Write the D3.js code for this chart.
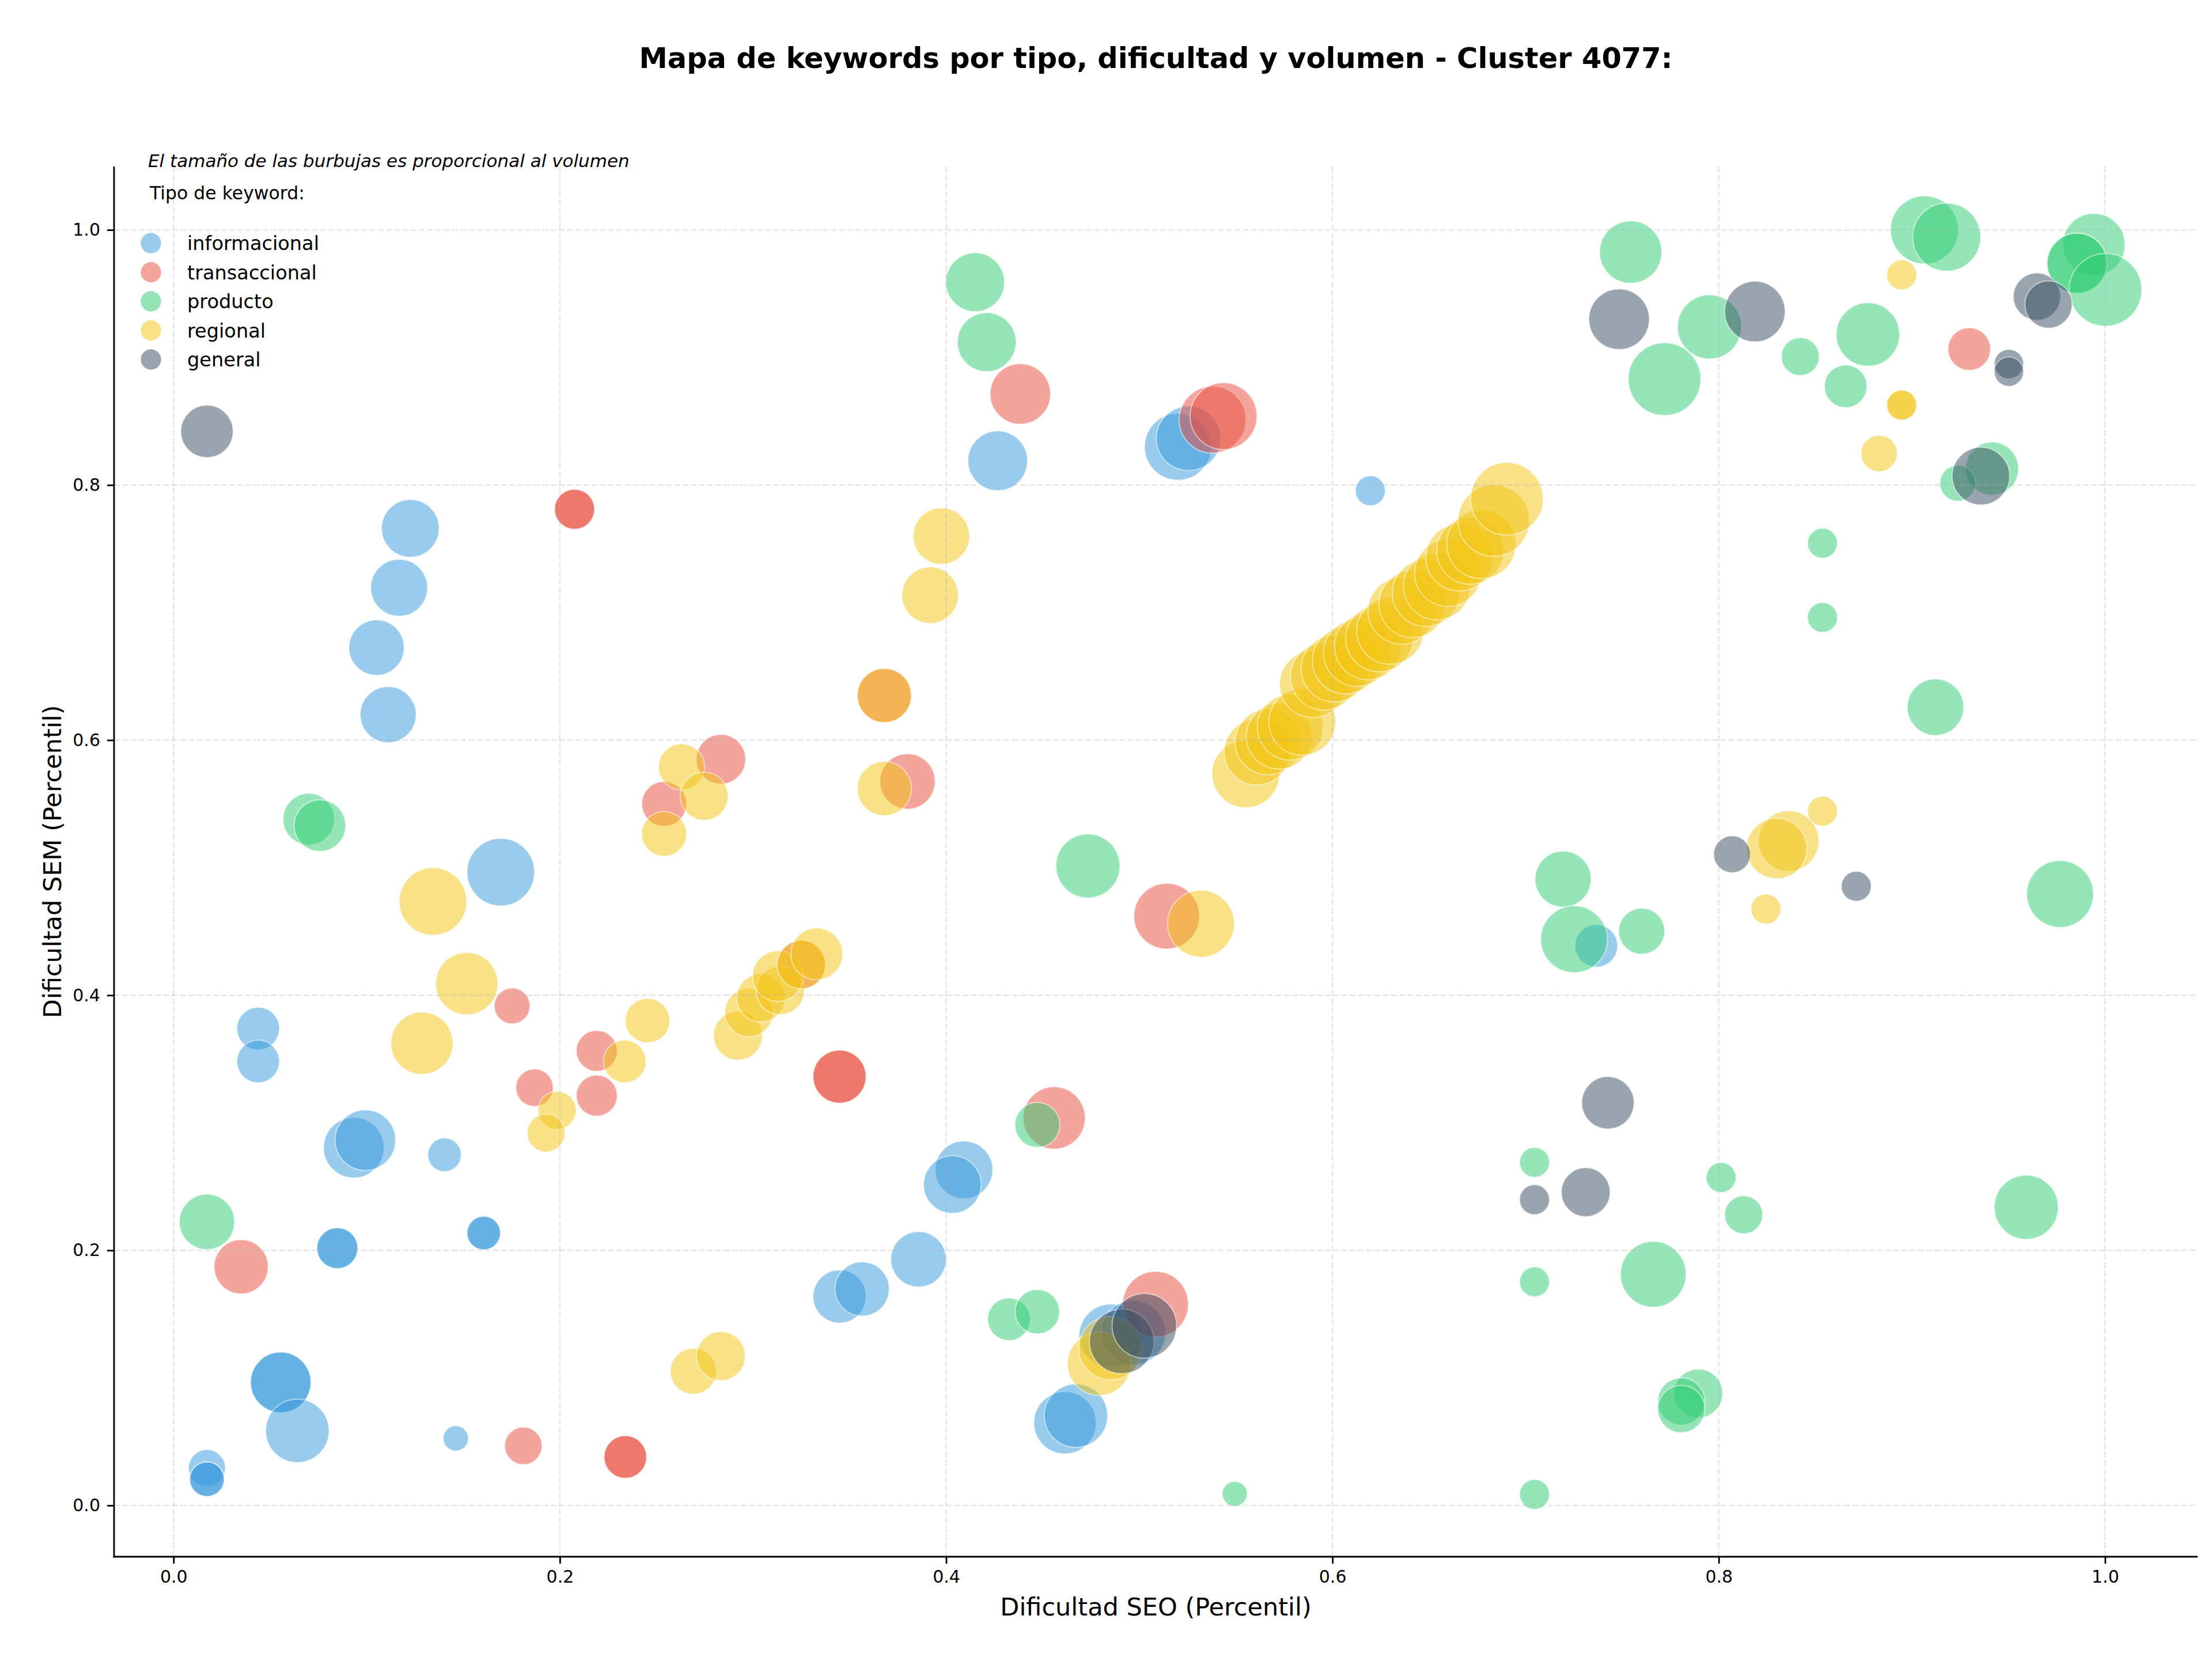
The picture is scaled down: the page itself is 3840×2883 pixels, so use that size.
<!DOCTYPE html>
<html>
<head>
<meta charset="utf-8">
<script src="https://cdn.jsdelivr.net/npm/d3@7"></script>
<style>
  html, body { margin: 0; padding: 0; background: #ffffff; }
  svg { display: block; }
  text { font-family: "DejaVu Sans", sans-serif; fill: #000; }
</style>
</head>
<body>
<script>
// ---------------- DATA ----------------
const titulo = "Mapa de keywords por tipo, dificultad y volumen - Cluster 4077:";
const nota = "El tamaño de las burbujas es proporcional al volumen";
const tituloLeyenda = "Tipo de keyword:";
const ejeX = "Dificultad SEO (Percentil)";
const ejeY = "Dificultad SEM (Percentil)";
const tipos = ["informacional", "transaccional", "producto", "regional", "general"];
const colores = ["#3498db", "#e74c3c", "#2ecc71", "#f1c40f", "#34495e"];
const ticksX = [0.0, 0.2, 0.4, 0.6, 0.8, 1.0];
const ticksY = [0.0, 0.2, 0.4, 0.6, 0.8, 1.0];

// [dificultad SEO, dificultad SEM, volumen]
const informacional = [
  [0.1226,0.766,400],[0.1168,0.7195,390],[0.1051,0.6725,369],[0.1111,0.620,378],
  [0.1694,0.4965,549],[0.4267,0.819,428],[0.520,0.830,538],[0.5255,0.8366,502],
  [0.6196,0.7955,108],[0.0438,0.3739,219],[0.0438,0.3481,219],[0.0933,0.2805,441],
  [0.0993,0.2864,441],[0.1403,0.2749,135],[0.0848,0.2017,202],[0.0848,0.2017,202],
  [0.1606,0.2136,135],[0.1606,0.2136,135],[0.0555,0.0965,441],[0.0555,0.0965,441],
  [0.0641,0.0585,484],[0.0173,0.0293,164],[0.0173,0.0206,144],[0.0173,0.0206,144],
  [0.1461,0.0526,77],[0.4092,0.2631,400],[0.4032,0.2516,400],[0.3857,0.193,369],
  [0.3448,0.1638,339],[0.3565,0.1697,353],[0.4852,0.1330,484],[0.4969,0.1355,502],
  [0.4615,0.0648,467],[0.4672,0.0704,484],[0.7366,0.4387,219]
];
const transaccional = [
  [0.2076,0.781,193],[0.2076,0.781,193],[0.2834,0.585,296],[0.254,0.550,243],
  [0.4384,0.8714,441],[0.5379,0.8512,538],[0.5436,0.854,538],[0.368,0.635,353],
  [0.380,0.5676,369],[0.1753,0.3916,154],[0.035,0.1871,353],[0.1811,0.0467,169],
  [0.2339,0.038,219],[0.2339,0.038,219],[0.1869,0.3275,169],[0.2191,0.3564,202],
  [0.2191,0.3213,202],[0.325,0.424,282],[0.5142,0.462,520],[0.3448,0.3362,339],
  [0.3448,0.3362,339],[0.4559,0.3038,467],[0.5084,0.1578,520],[0.9297,0.9066,219]
];
const producto = [
  [0.070,0.538,321],[0.0758,0.533,321],[0.415,0.959,416],[0.421,0.912,416],
  [0.4734,0.5014,493],[0.0173,0.2223,369],[0.4472,0.2983,243],[0.4325,0.146,219],
  [0.4472,0.1519,238],[0.5494,0.0091,75],[0.7544,0.9826,467],[0.7719,0.883,635],
  [0.7952,0.924,495],[0.8422,0.9007,174],[0.8772,0.918,484],[0.8657,0.8774,219],
  [0.9065,1.000,557],[0.918,0.9944,557],[0.9942,0.9885,467],[0.9855,0.9739,433],
  [0.9855,0.9739,433],[1.0002,0.953,635],[0.9415,0.8129,339],[0.9237,0.8014,154],
  [0.8537,0.7544,108],[0.8537,0.6962,108],[0.9122,0.6258,384],[0.7194,0.491,378],
  [0.7251,0.4439,538],[0.7601,0.4502,256],[0.9767,0.4794,538],[0.7046,0.269,108],
  [0.8012,0.2571,108],[0.8129,0.2279,174],[0.9592,0.2338,495],[0.7046,0.1753,108],
  [0.7661,0.1812,520],[0.7894,0.0878,288],[0.7806,0.0815,269],[0.7806,0.0756,269],
  [0.7046,0.0087,108]
];
const regional = [
  [0.263,0.579,256],[0.2747,0.556,278],[0.254,0.5265,243],[0.3975,0.760,384],
  [0.3917,0.7136,384],[0.368,0.635,353],[0.368,0.562,353],
  [0.5551,0.5735,549],[0.5609,0.5906,520],[0.5666,0.5986,520],[0.5724,0.6031,520],
  [0.5781,0.6101,520],[0.5844,0.6143,538],[0.5899,0.6439,538],[0.5956,0.6498,538],
  [0.6011,0.6561,538],[0.6069,0.6624,538],[0.6127,0.6683,538],[0.6184,0.6735,538],
  [0.6242,0.6798,538],[0.6299,0.6857,538],[0.6357,0.7014,538],[0.6414,0.7066,538],
  [0.6483,0.7153,538],[0.6541,0.7206,538],[0.6598,0.7310,538],[0.6656,0.7432,538],
  [0.6713,0.7484,538],[0.6771,0.7537,576],[0.6835,0.7721,615],[0.6903,0.7892,635],
  [0.1343,0.4735,549],[0.1518,0.4091,467],[0.1286,0.3624,467],[0.1986,0.3098,174],
  [0.1929,0.292,174],[0.2336,0.3481,219],[0.2454,0.3801,238],[0.2691,0.1052,256],
  [0.2834,0.1171,288],[0.2922,0.3683,288],[0.2979,0.3864,282],[0.3041,0.3979,282],
  [0.3141,0.4038,282],[0.3129,0.415,310],[0.325,0.424,282],[0.333,0.4324,324],
  [0.5319,0.4561,538],[0.4792,0.1111,484],[0.4851,0.1233,484],[0.8947,0.9648,108],
  [0.8947,0.8627,108],[0.8947,0.8627,108],[0.883,0.8247,160],[0.8537,0.5443,108],
  [0.8362,0.5209,441],[0.830,0.515,441],[0.8244,0.4676,108]
];
const general = [
  [0.0173,0.842,331],[0.7484,0.930,441],[0.8187,0.936,441],[0.9502,0.8948,104],
  [0.9502,0.8889,104],[0.9647,0.9477,269],[0.9707,0.9415,269],[0.9357,0.807,400],
  [0.8069,0.5105,164],[0.8712,0.4854,108],[0.7426,0.3157,331],[0.7046,0.2397,108],
  [0.7311,0.2456,288],[0.4909,0.1286,502],[0.5026,0.1408,502]
];
const series = [informacional, transaccional, producto, regional, general];

// ---------------- LAYOUT ----------------
const W = 3840, H = 2883;
const plot = { left: 198, right: 3815, top: 289, bottom: 2702 };
const FS = { title: 49.5, label: 43, tick: 30, legend: 33.6, legendTitle: 31.5, note: 31 };

const svg = d3.select("body").append("svg").attr("width", W).attr("height", H);
svg.append("rect").attr("width", W).attr("height", H).attr("fill", "#fff");

const x = d3.scaleLinear().domain([-0.0308, 1.0479]).range([plot.left, plot.right]);
const y = d3.scaleLinear().domain([-0.0402, 1.0497]).range([plot.bottom, plot.top]);
const r = d3.scaleSqrt().domain([0, 1000]).range([0, 2.5 * Math.sqrt(1000)]);
const color = d3.scaleOrdinal().domain(tipos).range(colores);

// bubbles
const gB = svg.append("g");
tipos.forEach((t, i) => {
  gB.append("g").selectAll("circle").data(series[i]).join("circle")
    .attr("cx", d => x(d[0])).attr("cy", d => y(d[1])).attr("r", d => r(d[2]))
    .attr("fill", color(t)).attr("fill-opacity", 0.5)
    .attr("stroke", "#fff").attr("stroke-opacity", 0.5).attr("stroke-width", 2);
});

// grid (drawn above collections as matplotlib does)
const gG = svg.append("g").attr("stroke", "#b0b0b0").attr("stroke-opacity", 0.3)
  .attr("stroke-width", 2.7).attr("stroke-dasharray", "10,4.3");
gG.selectAll(".gx").data(ticksX).join("line")
  .attr("x1", d => x(d)).attr("x2", d => x(d)).attr("y1", plot.top).attr("y2", plot.bottom);
gG.selectAll(".gy").data(ticksY).join("line")
  .attr("y1", d => y(d)).attr("y2", d => y(d)).attr("x1", plot.left).attr("x2", plot.right);

// axes
const xAxis = d3.axisBottom(x).tickValues(ticksX).tickFormat(d3.format(".1f")).tickSize(12).tickPadding(12);
const yAxis = d3.axisLeft(y).tickValues(ticksY).tickFormat(d3.format(".1f")).tickSize(12).tickPadding(12);
const gx = svg.append("g").attr("transform", `translate(0,${plot.bottom})`).call(xAxis);
const gy = svg.append("g").attr("transform", `translate(${plot.left},0)`).call(yAxis);
[gx, gy].forEach(g => {
  g.select(".domain").remove();
  g.selectAll(".tick line").attr("stroke", "#000").attr("stroke-width", 2.8);
  g.selectAll(".tick text").attr("font-family", "DejaVu Sans").attr("font-size", FS.tick).attr("fill", "#000");
});
svg.append("line").attr("x1", plot.left).attr("x2", plot.left).attr("y1", plot.top).attr("y2", plot.bottom + 1.4)
  .attr("stroke", "#000").attr("stroke-width", 2.8);
svg.append("line").attr("x1", plot.left - 1.4).attr("x2", plot.right).attr("y1", plot.bottom).attr("y2", plot.bottom)
  .attr("stroke", "#000").attr("stroke-width", 2.8);

// titles and labels
const cx = (plot.left + plot.right) / 2;
svg.append("text").attr("x", cx).attr("y", 118).attr("text-anchor", "middle")
  .attr("font-size", FS.title).attr("font-weight", "bold").text(titulo);
svg.append("text").attr("x", cx).attr("y", 2804).attr("text-anchor", "middle")
  .attr("font-size", FS.label).text(ejeX);
svg.append("text").attr("transform", `translate(106,${(plot.top + plot.bottom) / 2}) rotate(-90)`)
  .attr("text-anchor", "middle").attr("font-size", FS.label).text(ejeY);

// note + legend
svg.append("text").attr("x", 257).attr("y", 290).attr("font-size", FS.note)
  .attr("font-style", "italic").text(nota);
svg.append("text").attr("x", 260).attr("y", 346).attr("font-size", FS.legendTitle).text(tituloLeyenda);
const lg = svg.append("g").selectAll("g").data(tipos).join("g")
  .attr("transform", (d, i) => `translate(262,${422 + i * 50.5})`);
lg.append("circle").attr("r", 17.7).attr("fill", d => color(d)).attr("fill-opacity", 0.5);
lg.append("text").attr("x", 63).attr("y", 12).attr("font-size", FS.legend).text(d => d);
</script>
</body>
</html>
